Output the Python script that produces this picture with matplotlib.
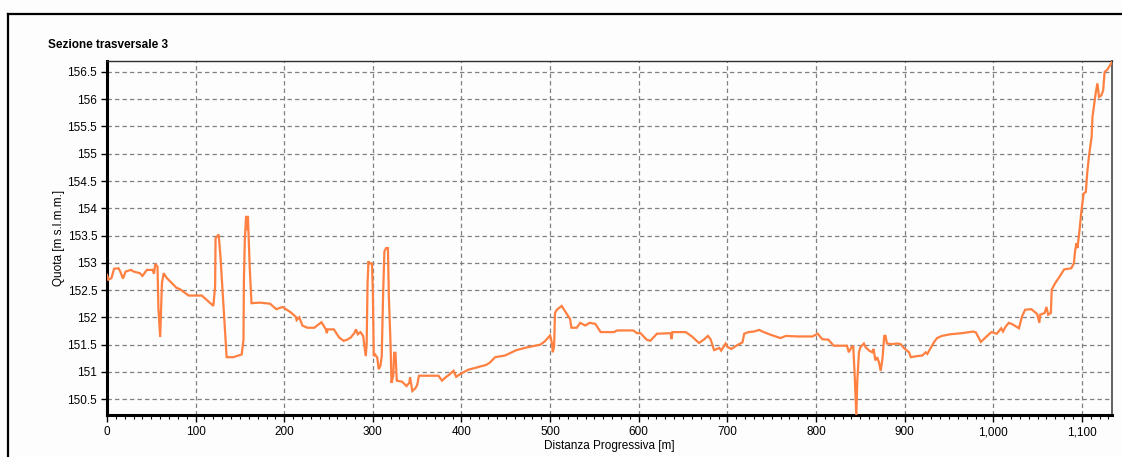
import matplotlib
matplotlib.use("Agg")
import matplotlib.pyplot as plt
from matplotlib.ticker import MultipleLocator, FuncFormatter
from matplotlib.lines import Line2D

plt.rcParams['font.family'] = ['Liberation Sans', 'DejaVu Sans']

title = "Sezione trasversale 3"
x_label = "Distanza Progressiva [m]"
y_label = "Quota [m s.l.m.m.]"

distanza = [
    0, 1.5, 5, 8, 13, 15, 18, 21, 27, 30, 37, 40, 45, 51.5, 53, 54.5, 57, 58, 60, 61, 62, 64, 67, 73,
    78.5, 82, 88, 92, 107, 120, 122, 122.5, 126, 128, 131, 134, 135, 142.5, 152, 154, 154.5, 155.5,
    157, 158, 159, 160, 161, 163, 172.5, 184, 191, 198, 200, 207.5, 213, 214, 217, 220.5, 226, 234,
    237, 242, 247, 248, 249, 256, 262, 267, 271, 275, 279, 281, 283, 286, 289, 290.5, 292, 293, 294,
    295, 296, 299, 300, 301, 302.5, 305, 306.5, 308.5, 310, 311.5, 313, 315, 317, 318, 320, 321, 323,
    324, 325.5, 327, 333, 338, 341, 342, 344.5, 348, 350, 352, 361, 374, 378, 382, 387, 391, 394,
    398.5, 407.5, 417, 428, 432, 438, 449, 462, 474, 489, 494, 500, 502, 503, 504.5, 505.5, 507.5,
    513, 517, 522.5, 524, 530, 534, 539.6, 544.5, 551, 557, 572, 575.5, 594, 598, 602, 609, 613,
    620.5, 636, 637, 638, 653, 660, 668, 674, 678, 681, 685, 691, 693, 698, 700, 704.5, 711, 717,
    719, 724, 730, 736, 739.5, 749, 760, 766, 779, 796, 802, 807, 814, 820, 835, 837, 840, 842,
    843.6, 845.5, 846.6, 848.5, 850, 854, 856, 860, 863.5, 865, 867, 869, 871, 873, 875, 877, 878.5,
    880, 886, 891.7, 895.5, 899, 905, 907, 914, 920, 923.7, 925.6, 933, 936.6, 942, 951.5, 964.5,
    977.6, 980.6, 986, 992.5, 998, 1004, 1009, 1011, 1014, 1017.5, 1022, 1029, 1032.5, 1036, 1043,
    1049.6, 1052, 1053, 1058, 1060, 1062, 1065, 1066, 1070, 1074.6, 1080, 1088, 1091, 1092.5, 1094,
    1095, 1097, 1099.6, 1102, 1104.5, 1106, 1108, 1111, 1112, 1114.5, 1115.7, 1117.5, 1119.4, 1122,
    1124, 1125.7, 1128.7, 1134,
]

quota = [
    152.78, 152.69, 152.72, 152.89, 152.90, 152.84, 152.71, 152.84, 152.87, 152.84, 152.81, 152.76,
    152.87, 152.87, 152.80, 152.98, 152.93, 152.17, 151.64, 152.14, 152.63, 152.81, 152.73, 152.63,
    152.54, 152.52, 152.45, 152.40, 152.40, 152.21, 152.57, 153.45, 153.52, 153.12, 152.32, 151.53,
    151.27, 151.27, 151.32, 151.59, 152.69, 153.42, 153.86, 153.60, 153.86, 153.42, 152.93, 152.26,
    152.27, 152.25, 152.15, 152.19, 152.17, 152.09, 152.01, 151.95, 152.00, 151.85, 151.81, 151.81,
    151.85, 151.91, 151.78, 151.71, 151.78, 151.78, 151.63, 151.57, 151.59, 151.63, 151.71, 151.78,
    151.69, 151.73, 151.66, 151.48, 151.29, 151.51, 152.63, 153.03, 152.99, 152.99, 152.45, 151.29,
    151.32, 151.26, 151.05, 151.11, 151.29, 152.39, 153.21, 153.27, 153.27, 152.39, 151.48, 150.80,
    150.93, 151.35, 151.35, 150.84, 150.82, 150.74, 150.80, 150.90, 150.65, 150.70, 150.76, 150.93,
    150.93, 150.93, 150.84, 150.90, 150.96, 151.02, 150.91, 150.96, 151.04, 151.08, 151.13, 151.17,
    151.27, 151.30, 151.40, 151.45, 151.50, 151.56, 151.67, 151.53, 151.36, 151.47, 152.08, 152.14,
    152.21, 152.11, 151.97, 151.81, 151.81, 151.90, 151.85, 151.90, 151.88, 151.73, 151.73, 151.76,
    151.76, 151.71, 151.71, 151.59, 151.57, 151.70, 151.71, 151.60, 151.73, 151.73, 151.65, 151.53,
    151.60, 151.66, 151.60, 151.40, 151.44, 151.39, 151.52, 151.46, 151.42, 151.49, 151.54, 151.70,
    151.73, 151.74, 151.77, 151.74, 151.68, 151.62, 151.66, 151.65, 151.65, 151.70, 151.60, 151.59,
    151.48, 151.48, 151.36, 151.45, 151.48, 150.96, 150.20, 150.84, 151.36, 151.45, 151.52, 151.45,
    151.39, 151.36, 151.42, 151.21, 151.27, 151.18, 151.02, 151.24, 151.66, 151.66, 151.52, 151.51,
    151.52, 151.51, 151.44, 151.36, 151.27, 151.29, 151.30, 151.36, 151.33, 151.54, 151.62, 151.66,
    151.69, 151.71, 151.74, 151.72, 151.55, 151.65, 151.73, 151.70, 151.80, 151.74, 151.83, 151.90,
    151.87, 151.80, 152.02, 152.14, 152.15, 152.06, 151.90, 152.05, 152.08, 152.19, 152.05, 152.08,
    152.51, 152.63, 152.74, 152.88, 152.90, 152.99, 153.24, 153.36, 153.27, 153.54, 153.97, 154.27,
    154.30, 154.64, 154.95, 155.31, 155.68, 155.98, 156.12, 156.29, 156.04, 156.07, 156.16, 156.50,
    156.54, 156.68,
]

W, H = 1122, 457
fig = plt.figure(figsize=(W / 100, H / 100), dpi=100, facecolor='#fdfdfd')
ax = fig.add_axes([107 / W, 1 - 415 / H, (1112 - 107) / W, (415 - 61) / H])
ax.set_facecolor('#fdfdfd')

ax.plot(distanza, quota, color='#ff8040', linewidth=1.6, solid_joinstyle='miter', zorder=3)

ax.set_xlim(0, 1134)
ax.set_ylim(150.21, 156.70)

ax.xaxis.set_major_locator(MultipleLocator(100))
ax.xaxis.set_minor_locator(MultipleLocator(10))
ax.yaxis.set_major_locator(MultipleLocator(0.5))
ax.xaxis.set_major_formatter(FuncFormatter(lambda v, p: f"{int(round(v)):,}"))
ax.yaxis.set_major_formatter(FuncFormatter(lambda v, p: f"{v:g}"))

ax.grid(True, which='major', color='#808080', linestyle=(0, (3.5, 2.5)), linewidth=0.9)
ax.set_axisbelow(True)

ax.tick_params(axis='x', which='major', length=5, width=1, color='black', labelsize=8.5, pad=3)
ax.tick_params(axis='x', which='minor', length=3, width=0.8, color='black')
ax.tick_params(axis='y', which='major', length=4, width=1, color='black', labelsize=8.5, pad=3)

for s in ['left', 'bottom']:
    ax.spines[s].set_linewidth(2.2)
    ax.spines[s].set_color('black')
ax.spines['top'].set_linewidth(1.0)
ax.spines['top'].set_color('#303030')
ax.spines['right'].set_linewidth(1.4)
ax.spines['right'].set_color('#606060')

ax.set_xlabel(x_label, fontsize=8.5, labelpad=1)
ax.set_ylabel(y_label, fontsize=8.5, labelpad=2)

fig.text(48 / W, 1 - 45 / H, title, fontsize=8.5, fontweight='bold', ha='left', va='center')

# outer frame
fig.add_artist(Line2D([8 / W, 1.0], [1 - 14 / H, 1 - 14 / H], color='black', linewidth=1.6,
                      transform=fig.transFigure))
fig.add_artist(Line2D([8 / W, 8 / W], [0, 1 - 14 / H], color='black', linewidth=1.6,
                      transform=fig.transFigure))

fig.savefig('out.png', dpi=100, facecolor=fig.get_facecolor())
